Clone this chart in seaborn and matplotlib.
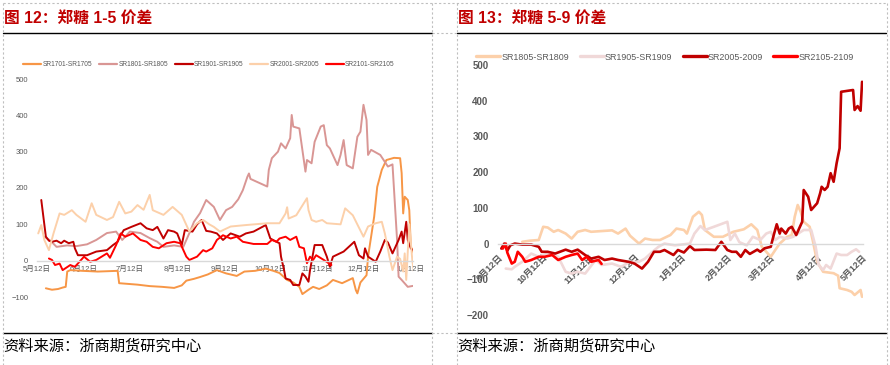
import matplotlib
matplotlib.use("Agg")
import matplotlib.pyplot as plt
import matplotlib.dates as mdates
from matplotlib.lines import Line2D
from matplotlib.ticker import FuncFormatter
import pandas as pd
import seaborn as sns

# ── left chart: 郑糖 1-5 spreads, x = days after 5月12日 ──
L_BASE = "2020-05-12"
L_NAMES = ["SR1701-SR1705", "SR1801-SR1805", "SR1901-SR1905", "SR2001-SR2005", "SR2101-SR2105"]
L_COLORS = ["#F79646", "#D99694", "#C00000", "#FCD0AA", "#FF0000"]

sr1701_d = [6, 10, 14, 17, 19, 20, 22, 30, 40, 53, 54, 60, 66, 74, 82, 90, 95, 98, 103, 107,
            112, 118, 124, 131, 136, 143, 150, 155, 159, 164, 168, 172, 174, 178, 181, 185, 190, 194, 200, 207,
            209, 210, 212, 216, 217, 221, 223, 226, 229, 234, 238, 239, 240, 241, 243, 244, 245, 247]
sr1701_v = [-76, -80, -78, -74, -72, -30, -26, -28, -30, -28, -62, -64, -66, -70, -72, -75, -68, -55, -50, -45,
            -38, -26, -35, -42, -30, -28, -22, -28, -34, -53, -60, -72, -92, -80, -72, -78, -68, -53, -62, -48,
            -81, -90, -60, -40, 11, 121, 203, 250, 277, 283, 282, 241, 130, 176, 167, 139, 38, 21]

sr1801_d = [5, 9, 13, 20, 26, 33, 39, 46, 52, 56, 61, 68, 74, 79, 83, 90, 96, 100, 103, 107,
            111, 116, 120, 124, 128, 132, 135, 138, 139, 140, 151, 152, 154, 158, 160, 163, 166, 167, 168, 172,
            176, 177, 180, 182, 186, 188, 190, 192, 197, 199, 201, 203, 207, 210, 212, 214, 216, 217, 219, 225,
            230, 233, 236, 237, 239, 243, 247]
sr1801_v = [66, 55, 38, 42, 40, 45, 57, 76, 80, 57, 80, 76, 62, 52, 38, 42, 38, 76, 107, 131,
            167, 148, 112, 139, 148, 169, 194, 231, 240, 225, 204, 250, 282, 300, 323, 309, 337, 401, 369, 364,
            245, 277, 268, 327, 369, 373, 318, 309, 263, 291, 332, 263, 254, 341, 355, 429, 387, 291, 305, 291,
            259, 265, 57, -44, -53, -72, -69]

sr1901_d = [3, 6, 8, 10, 13, 16, 18, 21, 24, 25, 27, 33, 39, 46, 50, 53, 55, 57, 62, 68,
            72, 76, 79, 83, 86, 90, 92, 95, 97, 102, 105, 108, 111, 114, 118, 122, 127, 133, 137, 142,
            150, 153, 157, 159, 160, 162, 163, 166, 168, 172, 174, 176, 178, 179, 182, 187, 190, 192, 194, 196,
            201, 208, 211, 214, 215, 217, 222, 225, 228, 230, 233, 237, 239, 240, 242, 243, 245, 246]
sr1901_v = [167, 66, 55, 52, 55, 48, 55, 48, 52, 34, 15, 15, 25, 29, 43, 52, 70, 84, 93, 103,
            89, 84, 93, 61, 84, 80, 75, 43, 84, 80, 100, 112, 82, 80, 75, 57, 75, 66, 75, 80,
            98, 61, 52, 48, 11, -26, -49, -53, -67, -67, -35, -44, -58, -26, 43, 43, 11, -17, 11, 15,
            25, 52, 15, 6, 34, 11, -3, 25, 57, 50, 20, 57, 80, 48, 107, 57, 34, 30]

sr2001_d = [1, 3, 5, 8, 11, 15, 18, 23, 26, 32, 36, 39, 46, 50, 54, 58, 62, 66, 70, 74,
            76, 83, 89, 95, 100, 105, 109, 113, 116, 120, 127, 137, 151, 159, 163, 164, 165, 170, 177, 178,
            180, 183, 187, 190, 199, 202, 207, 214, 217, 222, 226, 228, 231, 233, 236, 238, 240, 241, 242, 244,
            246, 247]
sr2001_v = [75, 98, 57, 29, 75, 130, 126, 139, 126, 107, 158, 126, 112, 120, 162, 130, 135, 153, 140, 181,
            139, 126, 148, 126, 80, 103, 112, 100, 93, 80, 94, 98, 103, 103, 130, 147, 116, 125, 172, 139,
            112, 107, 112, 103, 100, 144, 125, 66, 94, 103, 107, 75, 11, -26, 11, 5, -30, 20, -53, 100,
            0, -30]

sr2101_d = [8, 10, 12, 15, 17, 22, 25, 28, 31, 35, 39, 46, 48, 52, 55, 58, 63, 68, 72, 76,
            80, 85, 90, 94, 98, 100, 105, 109, 111, 115, 118, 122, 127, 131, 135, 142, 151, 154, 157, 159,
            163, 166, 170, 172, 175, 177, 179, 181, 183, 188, 193]
sr2101_v = [6, 2, -12, -8, -26, -12, -17, -3, 11, -3, 2, 20, 8, 43, 75, 66, 75, 57, 52, 38,
            34, 48, 52, 48, 11, 2, 11, 29, 25, 34, 57, 70, 61, 66, 52, 46, 46, 57, 52, 61,
            66, 57, 66, 38, 34, -7, 11, 2, 15, 2, -12]

# ── right chart: 郑糖 5-9 spreads, x = days after 9月12日 ──
R_BASE = "2019-09-12"
R_NAMES = ["SR1805-SR1809", "SR1905-SR1909", "SR2005-2009", "SR2105-2109"]
R_COLORS = ["#FCD0AA", "#F0D8D8", "#C00000", "#FF0000"]

sr1805_d = [16, 21, 27, 30, 33, 37, 40, 45, 49, 53, 58, 62, 69, 76, 80, 85, 88, 94, 98, 103,
            108, 115, 119, 124, 126, 130, 134, 136, 138, 144, 150, 157, 164, 169, 173, 176, 182, 185, 188, 193,
            196, 198, 200, 202, 204, 208, 210, 213, 217, 224, 227, 228, 233, 236, 238, 242, 243]
sr1805_v = [5, 8, 10, 47, 45, 33, 38, 28, 14, 33, 38, 33, 35, 37, 28, 42, 22, 0, 14, 10,
            10, 24, 42, 38, 28, 75, 89, 80, 38, 19, 19, 33, 40, 54, 38, -9, -37, -18, 0, 19,
            24, 75, 108, 89, 61, 47, 10, -51, -79, -83, -90, -125, -130, -135, -144, -130, -149]

sr1905_d = [5, 9, 11, 16, 22, 27, 33, 40, 45, 49, 53, 58, 65, 69, 76, 82, 88, 94, 98, 103,
            107, 111, 118, 124, 128, 131, 135, 138, 144, 153, 155, 158, 161, 166, 170, 175, 179, 182, 185, 188,
            193, 197, 204, 209, 212, 214, 217, 219, 222, 226, 229, 233, 236, 239, 241]
sr1905_v = [-70, -72, -65, -51, -28, -37, -28, -37, -79, -84, -79, -84, -46, -60, -56, -65, -51, -51, -42, -23,
            -9, 0, -5, -2, 0, 28, 49, 38, 47, 61, 10, 28, 4, -5, 19, 10, 28, 33, 10, 19,
            14, 19, 38, 38, -9, -60, -74, -60, -70, -28, -32, -32, -23, -16, -23]

sr2005_d = [2, 4, 6, 8, 11, 16, 22, 27, 29, 33, 38, 45, 49, 53, 58, 62, 67, 71, 76, 80,
            87, 91, 96, 100, 104, 108, 111, 117, 120, 124, 128, 131, 139, 145, 149, 153, 156, 159, 162, 165,
            168, 173, 175, 178, 182, 184, 186, 188, 189, 192, 194, 196, 199, 203, 204, 207, 209, 213, 215, 216,
            218, 220, 222, 224, 226, 228, 229, 237, 238, 240, 242, 243]
sr2005_v = [-14, 0, -20, -5, 0, -3, -3, -9, -23, -23, -28, -17, -23, -17, -32, -42, -37, -46, -42, -46,
            -51, -56, -70, -51, -23, -23, -18, -32, -18, -25, -7, -18, -17, -18, 5, -18, -23, -23, -37, -18,
            -29, -17, -23, -13, -9, 24, 54, 28, 42, 28, 42, 47, 24, 61, 150, 131, 94, 113, 141, 159,
            150, 159, 197, 173, 225, 267, 425, 430, 374, 385, 372, 453]

sr2105_d = [3, 5, 6, 9, 11, 13, 16, 18, 22, 27, 31, 36, 40, 45, 49, 53, 56, 59, 62, 67, 69]
sr2105_v = [-14, 0, -25, -56, -51, -23, -37, -51, -46, -37, -37, -32, -46, -37, -32, -28, -46, -37, -51, -46, -57]

TITLE_L = "图 12：郑糖 1-5 价差"
TITLE_R = "图 13：郑糖 5-9 价差"
SOURCE = "资料来源：浙商期货研究中心"

W, H = 890, 365
GREY = "#595959"
AXIS_GREY = "#D9D9D9"


def long_frame(base, names, days, values):
    parts = []
    for name, d, v in zip(names, days, values):
        parts.append(pd.DataFrame({
            "date": pd.Timestamp(base) + pd.to_timedelta(d, unit="D"),
            "spread": v,
            "series": name,
        }))
    return pd.concat(parts, ignore_index=True)


def fx(px):
    return px / W


def fy(py):
    return 1 - py / H


def month_label(v, pos):
    d = mdates.num2date(v)
    return f"{d.month}月{d.day}日"


def style_axis(ax, base, span, ylim, yticks):
    ax.set_xlim(pd.Timestamp(base), pd.Timestamp(base) + pd.Timedelta(days=span))
    ax.set_ylim(*ylim)
    ax.set_yticks(yticks)
    ax.xaxis.set_major_locator(mdates.MonthLocator(bymonthday=12))
    ax.xaxis.set_major_formatter(FuncFormatter(month_label))
    ax.set_xlabel("")
    ax.set_ylabel("")
    for side in ["top", "right", "left"]:
        ax.spines[side].set_visible(False)
    ax.spines["bottom"].set_position(("data", 0))
    ax.spines["bottom"].set_color(AXIS_GREY)
    ax.spines["bottom"].set_linewidth(1.0)
    ax.grid(False)


sns.set_theme(style="white")
plt.rcParams["font.family"] = ["Liberation Sans", "Noto Sans CJK SC", "DejaVu Sans"]

fig = plt.figure(figsize=(W / 100, H / 100), dpi=100)

# ── left panel ──
ax_l = fig.add_axes([fx(36.7), fy(297), 246.5 * 1.527 / W, 218 / H])
df_l = long_frame(L_BASE, L_NAMES,
                  [sr1701_d, sr1801_d, sr1901_d, sr2001_d, sr2101_d],
                  [sr1701_v, sr1801_v, sr1901_v, sr2001_v, sr2101_v])
sns.lineplot(data=df_l, x="date", y="spread", hue="series", hue_order=L_NAMES,
             palette=dict(zip(L_NAMES, L_COLORS)), linewidth=1.4,
             estimator=None, sort=False, legend=False, ax=ax_l)
style_axis(ax_l, L_BASE, 246.5, (-100, 500), range(-100, 501, 100))
ax_l.tick_params(axis="y", length=0, labelsize=5.5, labelcolor=GREY, pad=6)
ax_l.tick_params(axis="x", direction="inout", length=3, color=AXIS_GREY,
                 labelsize=5.5, labelcolor=GREY, pad=2.5)
ax_l.legend([Line2D([], [], color=c, lw=1.6) for c in L_COLORS], L_NAMES,
            loc="center", bbox_to_anchor=(fx(209), fy(65)), bbox_transform=fig.transFigure,
            ncol=5, frameon=False, fontsize=4.8, handlelength=2.7, handletextpad=0.2,
            columnspacing=1.0, labelcolor=GREY)

# ── right panel ──
ax_r = fig.add_axes([fx(498.3), fy(315), 243.5 * 1.497 / W, 250 / H])
df_r = long_frame(R_BASE, R_NAMES,
                  [sr1805_d, sr1905_d, sr2005_d, sr2105_d],
                  [sr1805_v, sr1905_v, sr2005_v, sr2105_v])
sns.lineplot(data=df_r, x="date", y="spread", hue="series", hue_order=R_NAMES,
             palette=dict(zip(R_NAMES, R_COLORS)), linewidth=1.9,
             estimator=None, sort=False, legend=False, ax=ax_r)
style_axis(ax_r, R_BASE, 243.5, (-200, 500), range(-200, 501, 100))
ax_r.tick_params(axis="y", length=0, labelsize=7, labelcolor=GREY, pad=7)
ax_r.tick_params(axis="x", direction="inout", length=3, color=AXIS_GREY,
                 labelsize=6.5, labelcolor=GREY, pad=5)
for lab in ax_r.get_yticklabels():
    lab.set_fontweight("bold")
for lab in ax_r.get_xticklabels():
    lab.set_fontweight("bold")
    lab.set_rotation(45)
    lab.set_ha("right")
    lab.set_va("top")
    lab.set_rotation_mode("anchor")
ax_r.legend([Line2D([], [], color=c, lw=2.4) for c in R_COLORS], R_NAMES,
            loc="center", bbox_to_anchor=(fx(665), fy(57)), bbox_transform=fig.transFigure,
            ncol=4, frameon=False, fontsize=6.4, handlelength=2.7, handletextpad=0.1,
            columnspacing=1.2, labelcolor=GREY)

# ── report frame: titles, rules, dashed cell borders, source ──
for x0, x1, title in [(3, 432, TITLE_L), (457, 886, TITLE_R)]:
    fig.text(fx(x0 + 0.5), fy(18), title, color="#C00000", fontsize=11.3,
             fontweight="bold", va="center", ha="left")
    fig.text(fx(x0 + 0.5), fy(346), SOURCE, color="black", fontsize=11,
             va="center", ha="left")
    for py in [33, 333]:
        fig.add_artist(Line2D([fx(x0), fx(x1)], [fy(py), fy(py)], color="black",
                              lw=1.0, transform=fig.transFigure))

dash = dict(color="#BFBFBF", lw=0.8, ls=(0, (2, 2)), transform=fig.transFigure)
fig.add_artist(Line2D([fx(3), fx(887)], [fy(3), fy(3)], **dash))
for px in [3, 432, 457, 887]:
    fig.add_artist(Line2D([fx(px), fx(px)], [fy(3), fy(365)], **dash))
for py in [33, 333]:
    fig.add_artist(Line2D([fx(432), fx(457)], [fy(py), fy(py)], **dash))

fig.savefig("out.png", dpi=100)
